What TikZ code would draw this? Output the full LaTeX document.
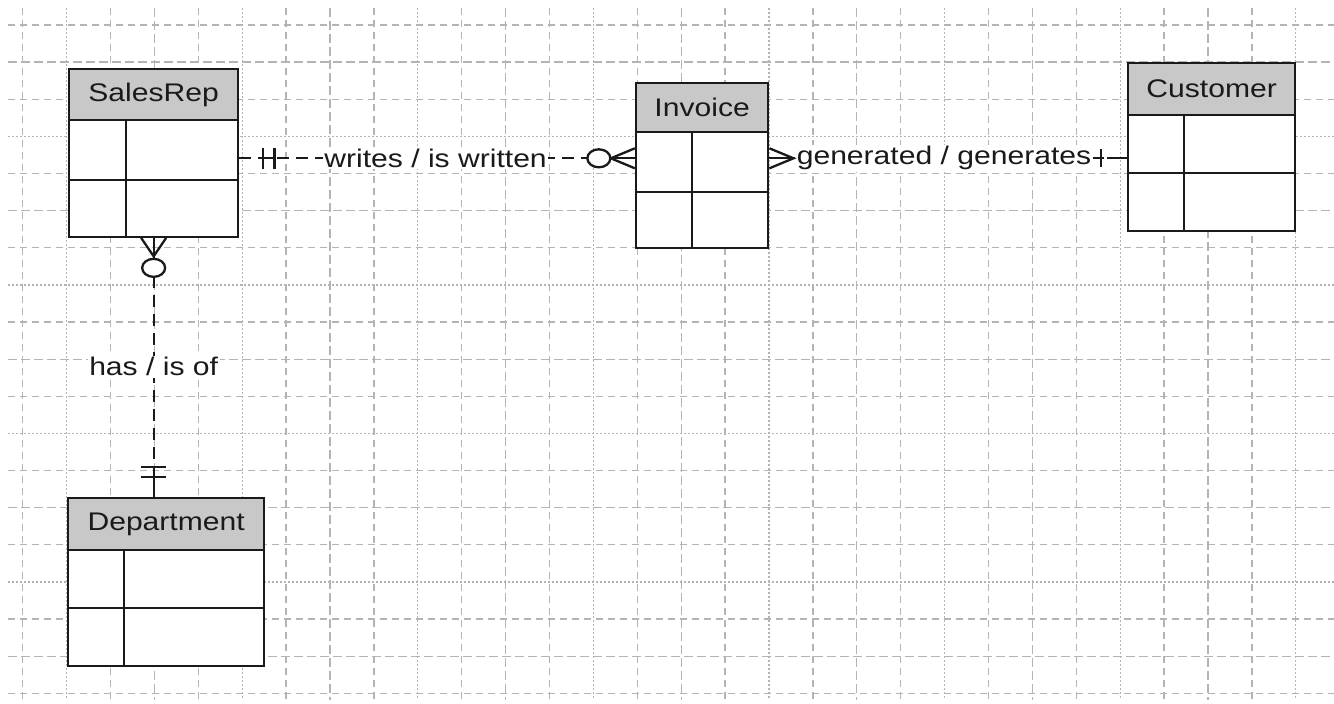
\documentclass[tikz,border=0pt]{standalone}
\usepackage{fontspec}
\newfontfamily\erfont{Liberation Sans}[FakeStretch=1.18]
\newcommand\ertext{\erfont\fontsize{25.5}{30}\selectfont}
\usetikzlibrary{calc}
\definecolor{hdrgray}{HTML}{C8C8C8}
\definecolor{gridgray}{HTML}{B4B4B4}
\definecolor{inkgray}{HTML}{1A1A1A}

\begin{document}
\begin{tikzpicture}[x=1pt,y=-1pt,
  gridline/.style={draw=gridgray, line width=1.3pt},
  gdash/.style={gridline, dash pattern=on 7pt off 5pt},
  glong/.style={gridline, dash pattern=on 9pt off 4pt},
  gdot/.style={gridline, dash pattern=on 1.5pt off 2.5pt},
  entbox/.style={draw=inkgray, line width=2.3pt, fill=white, inner sep=0pt},
  hdr/.style={draw=inkgray, line width=2.3pt, fill=hdrgray, inner sep=0pt,
              font=\ertext, text=inkgray},
  cell/.style={draw=inkgray, line width=2pt},
  conn/.style={draw=inkgray, line width=2.3pt, dash pattern=on 12pt off 7pt},
  cardmark/.style={draw=inkgray, line width=2.3pt},
  ring/.style={draw=inkgray, line width=2.3pt, fill=white, x radius=11.5pt, y radius=9pt},
  lbl/.style={fill=white, inner sep=1.5pt, font=\ertext, text=inkgray}]

\useasboundingbox (0,0) rectangle (1334,704);
\fill[white] (0,0) rectangle (1334,704);

% background grid
\foreach \k in {0,...,29}{
  \pgfmathtruncatemacro\m{mod(\k,4)}
  \ifnum\m=1 \def\gs{gdot}\else\ifnum\m=3 \def\gs{glong}\else\def\gs{gdash}\fi\fi
  \draw[\gs] (22.7+43.9*\k, 8) -- (22.7+43.9*\k, 700);
}
\foreach \k in {0,...,18}{
  \pgfmathtruncatemacro\m{mod(\k,4)}
  \ifnum\m=3 \def\gs{gdot}\else\ifnum\m=1 \def\gs{glong}\else\def\gs{gdash}\fi\fi
  \draw[\gs] (8, 25+37.13*\k) -- (1334, 25+37.13*\k);
}

% ---------- entities ----------
% SalesRep
\node[entbox, minimum width=169.3pt, minimum height=167.4pt] (sr) at (153.65,153) {};
\node[hdr, minimum width=169.3pt, minimum height=50.7pt, anchor=north] (srh) at (sr.north) {SalesRep};
\coordinate (srrow) at (0,180);
\coordinate (srcol) at (126,0);
\draw[cell] (sr.west |- srrow) -- (sr.east |- srrow);
\draw[cell] (srh.south -| srcol) -- (sr.south -| srcol);

% Invoice
\node[entbox, minimum width=132.3pt, minimum height=165pt] (inv) at (702.15,165.2) {};
\node[hdr, minimum width=132.3pt, minimum height=49pt, anchor=north] (invh) at (inv.north) {Invoice};
\coordinate (invrow) at (0,191.7);
\coordinate (invcol) at (692.3,0);
\draw[cell] (inv.west |- invrow) -- (inv.east |- invrow);
\draw[cell] (invh.south -| invcol) -- (inv.south -| invcol);

% Customer
\node[entbox, minimum width=166.7pt, minimum height=167.7pt] (cust) at (1211.65,147.15) {};
\node[hdr, minimum width=166.7pt, minimum height=51.7pt, anchor=north] (custh) at (cust.north) {Customer};
\coordinate (custrow) at (0,173.3);
\coordinate (custcol) at (1184,0);
\draw[cell] (cust.west |- custrow) -- (cust.east |- custrow);
\draw[cell] (custh.south -| custcol) -- (cust.south -| custcol);

% Department
\node[entbox, minimum width=195.7pt, minimum height=167.4pt] (dep) at (166.15,582) {};
\node[hdr, minimum width=195.7pt, minimum height=51.7pt, anchor=north] (deph) at (dep.north) {Department};
\coordinate (deprow) at (0,608.3);
\coordinate (depcol) at (124.3,0);
\draw[cell] (dep.west |- deprow) -- (dep.east |- deprow);
\draw[cell] (deph.south -| depcol) -- (dep.south -| depcol);

% ---------- relationships ----------
\coordinate (wr) at (0,158.3);

% SalesRep -- Invoice : writes / is written
\coordinate (a1) at (sr.east |- wr);
\coordinate (b1) at (inv.west |- wr);
\draw[conn] (a1) -- (b1) node[lbl, pos=0.496] {writes / is written};
% exactly one at SalesRep
\draw[cardmark] ($(a1)+(23.4,-10.5)$) -- ($(a1)+(23.4,10.5)$);
\draw[cardmark] ($(a1)+(35,-10.5)$) -- ($(a1)+(35,10.5)$);
\draw[cardmark] ($(a1)+(23.4,0)$) -- ($(a1)+(35,0)$);
% zero or many at Invoice
\draw[cardmark] ($(b1)+(-25,0)$) -- (b1);
\draw[cardmark] ($(b1)+(-24,0)$) -- ($(b1)+(0,-10)$);
\draw[cardmark] ($(b1)+(-24,0)$) -- ($(b1)+(0,10)$);
\path[ring] ($(b1)+(-36,0)$) ellipse [];

% Invoice -- Customer : generated / generates
\coordinate (a2) at (inv.east |- wr);
\coordinate (b2) at (cust.west |- wr);
\draw[conn] (a2) -- (b2) node[lbl, pos=0.488] {generated / generates};
% many at Invoice
\draw[cardmark] (a2) -- ($(a2)+(24,0)$);
\draw[cardmark] ($(a2)+(0,-10)$) -- ($(a2)+(24,0)$) -- ($(a2)+(0,10)$);
% one at Customer
\draw[cardmark] ($(b2)+(-26.5,-9)$) -- ($(b2)+(-26.5,9)$);
\draw[cardmark] ($(b2)+(-20,0)$) -- (b2);

% SalesRep -- Department : has / is of
\coordinate (a3) at (sr.south);
\coordinate (b3) at (sr.south |- dep.north);
\draw[conn] (a3) -- (b3) node[lbl, pos=0.497] {has / is of};
% zero or many at SalesRep
\draw[cardmark] (a3) -- ($(a3)+(0,19)$);
\draw[cardmark] ($(a3)+(-12.5,0)$) -- ($(a3)+(0,18.5)$) -- ($(a3)+(12.5,0)$);
\path[ring] ($(a3)+(0,30)$) ellipse [];
% exactly one at Department
\draw[cardmark] ($(b3)+(-12.5,-30)$) -- ($(b3)+(12.5,-30)$);
\draw[cardmark] ($(b3)+(-12.5,-20)$) -- ($(b3)+(12.5,-20)$);
\draw[cardmark] ($(b3)+(0,-30)$) -- (b3);

\end{tikzpicture}
\end{document}
